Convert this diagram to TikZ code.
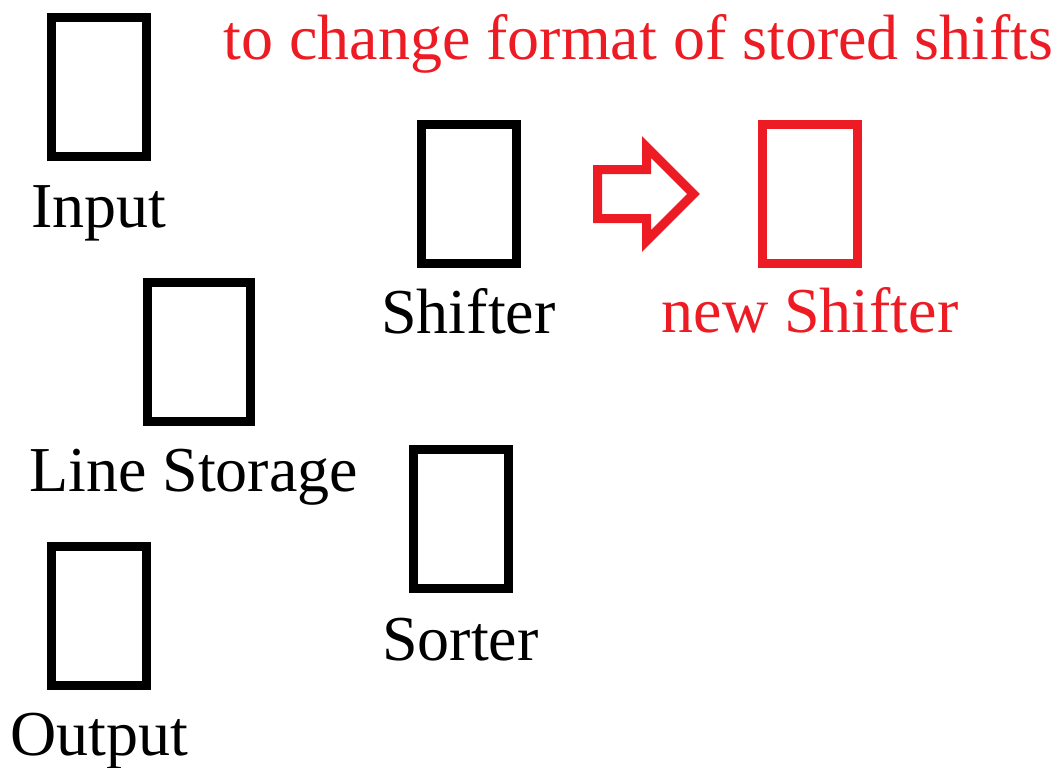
\documentclass[tikz,border=0pt]{standalone}
\usepackage{fontspec}
\setmainfont{Liberation Serif}
\definecolor{shiftred}{HTML}{ED1C24}

\tikzset{every picture/.style={line width=0.75pt}}
\tikzset{
  modbox/.style={draw, line width=6.75pt, minimum width=71.25pt, minimum height=104.25pt, inner sep=0pt},
  modlbl/.style={font=\fontsize{48}{57}\selectfont, anchor=base, inner sep=0pt},
}

\begin{document}
\begin{tikzpicture}[x=0.75pt,y=0.75pt,yscale=-1,xscale=1]
	\useasboundingbox (0,0) rectangle (1059,767);

	% Modules
	\node[modbox] (inbox) at (99,87) {};
	\node[modbox, minimum width=77.25pt] (storebox) at (199,351.5) {};
	\node[modbox] (outbox) at (99,616) {};
	\node[modbox] (shiftbox) at (468.5,194) {};
	\node[modbox] (sortbox) at (460.5,519) {};
	\node[modbox, draw=shiftred] (newshiftbox) at (810,193.5) {};

	% Text Nodes
	\node[modlbl] (inlbl) at ([yshift=49.5pt]inbox.south) {Input};
	\node[modlbl] (storelbl) at ([xshift=-4pt,yshift=49.5pt]storebox.south) {Line Storage};
	\node[modlbl] (outlbl) at ([yshift=48.75pt]outbox.south) {Output};
	\node[modlbl] (shiftlbl) at ([yshift=48.75pt]shiftbox.south) {Shifter};
	\node[modlbl] (sortlbl) at ([yshift=50.25pt]sortbox.south) {Sorter};
	\node[modlbl, text=shiftred] (newshiftlbl) at ([yshift=48.75pt]newshiftbox.south) {new Shifter};
	\node[modlbl, text=shiftred] (title) at (638.5,60) {to change format of stored shifts};

	%Shape: Right Arrow
	\draw [shiftred, line width=6.75pt, miter limit=10] (597.5,169.5) -- (646.5,169.5) -- (646.5,147) -- (693.5,194) -- (646.5,241) -- (646.5,218.5) -- (597.5,218.5) -- cycle ;

\end{tikzpicture}
\end{document}
